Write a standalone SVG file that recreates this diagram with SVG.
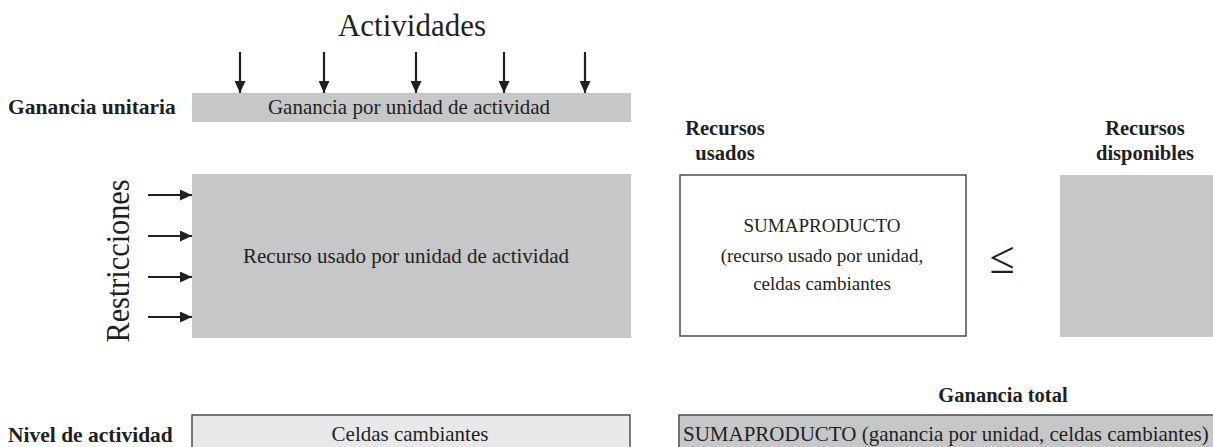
<svg xmlns="http://www.w3.org/2000/svg" width="1213" height="447" viewBox="0 0 1213 447">
  <defs>
    <marker id="ah" viewBox="0 0 12 11" refX="12" refY="5.5" markerWidth="12" markerHeight="11" markerUnits="userSpaceOnUse" orient="auto">
      <path d="M0,0 L12,5.5 L0,11 Z" fill="#231f20"/>
    </marker>
    <style>
      .t { font-family: "Liberation Serif", "Times New Roman", serif; fill: #231f20; }
      .r { font-size: 21px; }
      .s { font-size: 19px; }
      .b { font-size: 20.5px; font-weight: bold; }
      .bl { font-size: 21.5px; font-weight: bold; }
      .big { font-size: 31px; }
      .gray { fill: #c6c7c9; }
      .conn line { stroke: #231f20; stroke-width: 2.2; marker-end: url(#ah); }
    </style>
  </defs>
  <rect width="1213" height="447" fill="#ffffff"/>

  <g id="actividades-title">
    <text class="t big" x="412" y="36" text-anchor="middle">Actividades</text>
  </g>

  <g id="ganancia-unitaria">
    <text class="t bl" x="8" y="114">Ganancia unitaria</text>
    <rect class="gray" x="192" y="93" width="439" height="29"/>
    <text class="t r" x="409" y="114" text-anchor="middle">Ganancia por unidad de actividad</text>
  </g>

  <g id="restricciones-label">
    <text class="t" font-size="33" transform="translate(129,261) rotate(-90)" text-anchor="middle" textLength="163" lengthAdjust="spacingAndGlyphs">Restricciones</text>
  </g>

  <g id="recurso-usado">
    <rect class="gray" x="192" y="174" width="439" height="164"/>
    <text class="t r" x="406" y="263" text-anchor="middle">Recurso usado por unidad de actividad</text>
  </g>

  <g id="recursos-usados">
    <text class="t b" x="725" y="135" text-anchor="middle">Recursos</text>
    <text class="t b" x="725" y="160" text-anchor="middle">usados</text>
    <rect x="680" y="175" width="286" height="161" fill="#ffffff" stroke="#4d4d4f" stroke-width="1.5"/>
    <text class="t s" x="822" y="232" text-anchor="middle">SUMAPRODUCTO</text>
    <text class="t s" x="822" y="262" text-anchor="middle">(recurso usado por unidad,</text>
    <text class="t s" x="822" y="290" text-anchor="middle">celdas cambiantes</text>
  </g>

  <g id="leq">
    <text class="t" x="1002" y="273" font-size="46" text-anchor="middle">≤</text>
  </g>

  <g id="recursos-disponibles">
    <text class="t b" x="1145" y="135" text-anchor="middle">Recursos</text>
    <text class="t b" x="1145" y="160" text-anchor="middle">disponibles</text>
    <rect class="gray" x="1060" y="175" width="153" height="162"/>
  </g>

  <g id="nivel-actividad">
    <text class="t bl" x="8" y="442">Nivel de actividad</text>
    <rect x="192" y="415" width="438" height="33" fill="#e7e8ea" stroke="#4d4d4f" stroke-width="1.5"/>
    <text class="t r" x="410" y="441" text-anchor="middle">Celdas cambiantes</text>
  </g>

  <g id="ganancia-total">
    <text class="t b" x="1003" y="402" text-anchor="middle">Ganancia total</text>
    <rect x="679" y="415" width="535" height="33" fill="#c6c7c9" stroke="#4d4d4f" stroke-width="1.5"/>
    <text class="t r" x="683" y="441">SUMAPRODUCTO (ganancia por unidad, celdas cambiantes)</text>
  </g>

  <g id="connectors" class="conn">
    <line x1="240" y1="52" x2="240" y2="93"/>
    <line x1="324" y1="52" x2="324" y2="93"/>
    <line x1="416" y1="52" x2="416" y2="93"/>
    <line x1="504" y1="52" x2="504" y2="93"/>
    <line x1="585" y1="52" x2="585" y2="93"/>
    <line x1="148" y1="195" x2="192" y2="195"/>
    <line x1="148" y1="236" x2="192" y2="236"/>
    <line x1="148" y1="277" x2="192" y2="277"/>
    <line x1="148" y1="317" x2="192" y2="317"/>
  </g>
</svg>
